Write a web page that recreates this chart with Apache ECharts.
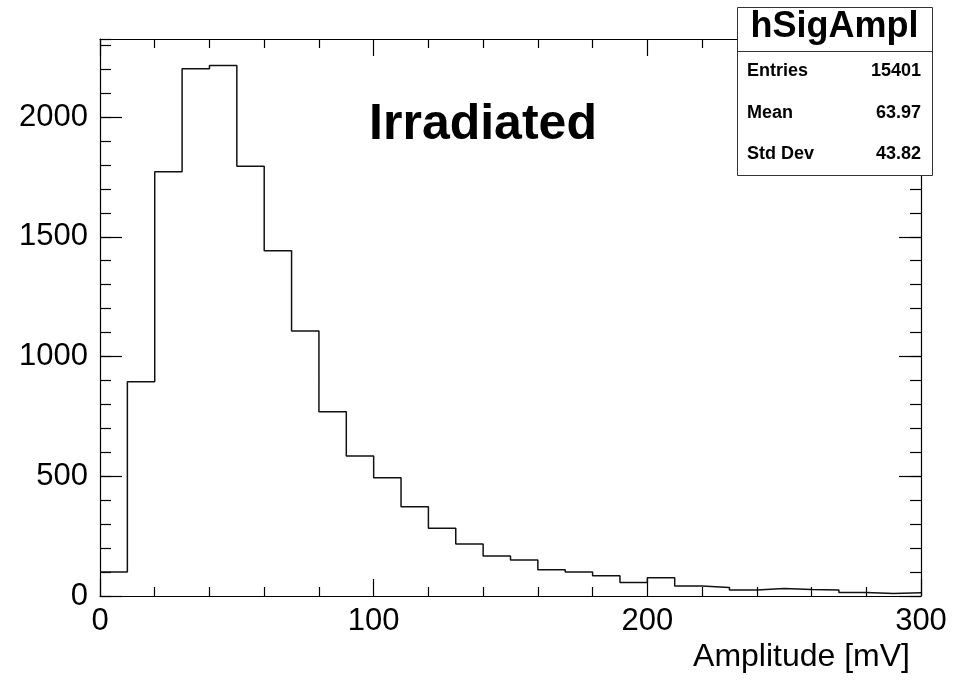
<!DOCTYPE html>
<html>
<head>
<meta charset="utf-8">
<script src="https://cdn.jsdelivr.net/npm/echarts@6/dist/echarts.min.js"></script>
<style>
html,body{margin:0;padding:0;background:#fff;}
#chart{width:953px;height:681px;}
</style>
</head>
<body>
<div id="chart"></div>
<script>
// ---- data ----
const binEdges = [0,10,20,30,40,50,60,70,80,90,100,110,120,130,140,150,160,170,180,190,200,210,220,230,240,250,260,270,280,290,300];
const binCounts = [100,895,1772,2202,2215,1795,1442,1107,769,585,494,373,283,217,167,150,110,100,85,56,76,42,36,25,31,27,25,15,10,14];
const xTicks = [0,100,200,300];
const yTicks = [0,500,1000,1500,2000];
const yAxisMax = 2326;
const histName = 'hSigAmpl';
const statLabels = ['Entries','Mean','Std Dev'];
const statValues = ['15401','63.97','43.82'];
const xTitle = 'Amplitude [mV]';
const plotLabel = 'Irradiated';

const FONT = "'Liberation Sans', Arial, Helvetica, sans-serif";

// build step points: each bin's lower edge with its count, plus the final upper edge
const histData = binCounts.map((c, i) => [binEdges[i], c]);
histData.push([binEdges[binEdges.length - 1], binCounts[binCounts.length - 1]]);

const chart = echarts.init(document.getElementById('chart'), null, {renderer: 'canvas'});

const lineStyle = {color: '#000', width: 1.2};

function xAx(pos, labels) {
  return {
    type: 'value', position: pos, min: xTicks[0], max: xTicks[xTicks.length - 1], interval: 100,
    axisLine: {show: true, onZero: false, lineStyle: lineStyle},
    axisTick: {show: true, inside: true, length: 17, lineStyle: lineStyle},
    minorTick: {show: true, splitNumber: 5, length: 9, lineStyle: lineStyle},
    splitLine: {show: false}, minorSplitLine: {show: false},
    axisLabel: {show: labels, fontSize: 31, fontFamily: FONT, color: '#000', margin: 10,
      formatter: v => xTicks.indexOf(v) >= 0 ? String(v) : ''}
  };
}
function yAx(pos, interval, tickLen, labels, line) {
  return {
    type: 'value', position: pos, min: 0, max: yAxisMax, interval: interval, offset: 0,
    axisLine: {show: line, onZero: false, lineStyle: lineStyle},
    axisTick: {show: true, inside: true, length: tickLen, lineStyle: lineStyle},
    splitLine: {show: false},
    axisLabel: {show: labels, fontSize: 31, fontFamily: FONT, color: '#000', margin: 12,
      showMaxLabel: false,
      formatter: v => yTicks.indexOf(v) >= 0 ? String(v) : ''}
  };
}

const boxX = 737, boxY = 7, boxW = 195, boxH = 168;
const rowY = [71.5, 113, 154.5];
const graphics = [
  {type: 'text', x: 483, y: 125, z: 10,
   style: {text: plotLabel, font: 'bold 50px ' + FONT, fill: '#000', align: 'center', verticalAlign: 'middle'}},
  {type: 'text', x: 910, y: 657, z: 10,
   style: {text: xTitle, font: '32px ' + FONT, fill: '#000', align: 'right', verticalAlign: 'middle'}},
  {type: 'rect', shape: {x: boxX + 0.5, y: boxY + 0.5, width: boxW, height: boxH}, z: 20,
   style: {fill: '#fff', stroke: '#333', lineWidth: 1}},
  {type: 'line', shape: {x1: boxX, y1: 51.5, x2: boxX + boxW, y2: 51.5}, z: 21,
   style: {stroke: '#333', lineWidth: 1}},
  {type: 'text', x: boxX + boxW / 2, y: 27, z: 21,
   style: {text: histName, font: 'bold 36px ' + FONT, fill: '#000', align: 'center', verticalAlign: 'middle'}}
];
statLabels.forEach((lab, i) => {
  graphics.push({type: 'text', x: 747, y: rowY[i], z: 21,
    style: {text: lab, font: 'bold 18px ' + FONT, fill: '#000', align: 'left', verticalAlign: 'middle'}});
  graphics.push({type: 'text', x: 921, y: rowY[i], z: 21,
    style: {text: statValues[i], font: 'bold 18px ' + FONT, fill: '#000', align: 'right', verticalAlign: 'middle'}});
});

chart.setOption({
  animation: false,
  backgroundColor: '#fff',
  grid: {left: 100, top: 39, right: 32, bottom: 85, containLabel: false},
  xAxis: [xAx('bottom', true), xAx('top', false)],
  yAxis: [
    yAx('left', 500, 22, true, true),
    yAx('left', 100, 11, false, false),
    yAx('right', 500, 22, false, true),
    yAx('right', 100, 11, false, false)
  ],
  series: [{
    type: 'line', name: histName, xAxisIndex: 0, yAxisIndex: 0,
    step: 'end', showSymbol: false, symbol: 'none',
    lineStyle: {color: '#111', width: 1.5},
    data: histData, z: 5
  }],
  graphic: graphics
});
</script>
</body>
</html>
